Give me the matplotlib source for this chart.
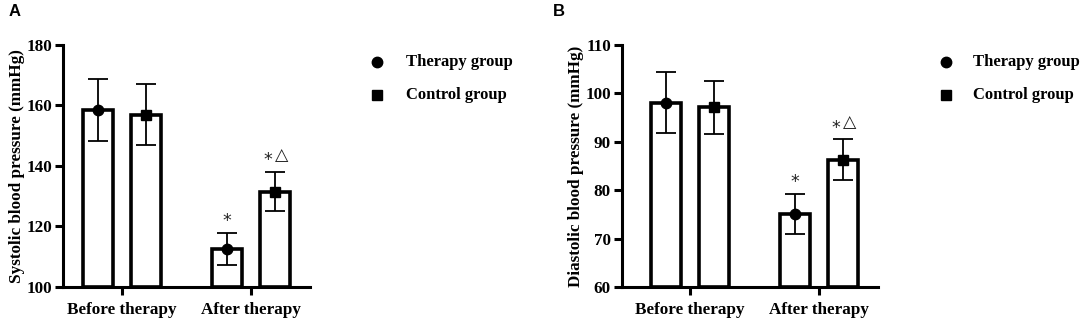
import matplotlib
matplotlib.use("Agg")
import matplotlib.pyplot as plt
from matplotlib.lines import Line2D
import numpy as np

groups = ["Before therapy", "After therapy"]
series = ["Therapy group", "Control group"]

sbp_therapy = [158.5, 112.5]
sbp_therapy_err = [10.3, 5.3]
sbp_control = [157.0, 131.5]
sbp_control_err = [10.2, 6.5]

dbp_therapy = [98.1, 75.1]
dbp_therapy_err = [6.3, 4.1]
dbp_control = [97.1, 86.3]
dbp_control_err = [5.5, 4.2]

# significance marks: (asterisk, triangle) per bar
sbp_marks = [[(False, False), (True, False)], [(False, False), (True, True)]]
dbp_marks = [[(False, False), (True, False)], [(False, False), (True, True)]]

plt.rcParams['font.family'] = ['Liberation Serif', 'DejaVu Serif']
plt.rcParams['font.weight'] = 'bold'

W, H = 1084, 326
fig = plt.figure(figsize=(W / 100, H / 100), dpi=100)
FS = 12.3

def px_axes(l, r, t, b):
    return fig.add_axes([l / W, 1 - b / H, (r - l) / W, (b - t) / H])

def panel(ax, vals, errs, marks, ylim, yticks, ylabel, xlim):
    x = np.arange(len(groups))
    off = 0.186
    width = 0.233
    markers = ["o", "s"]
    for i, (v, e, mk, m) in enumerate(zip(vals, errs, markers, marks)):
        xs = x + (-off if i == 0 else off)
        ax.bar(xs, np.array(v) - ylim[0], bottom=ylim[0], width=width,
               color="white", edgecolor="black", linewidth=2.6, zorder=2)
        ax.errorbar(xs, v, yerr=e, fmt="none", ecolor="black", elinewidth=1.3,
                    capsize=7, capthick=1.3, zorder=3)
        ax.plot(xs, v, linestyle="none", marker=mk, color="black",
                markersize=7.5, zorder=4)
        for xi, vi, ei, (star, tri) in zip(xs, v, e, m):
            if star and not tri:
                ax.annotate("*", (xi, vi + ei), xytext=(0, 2), textcoords="offset points",
                            ha="center", va="bottom", fontsize=12.5,
                            family=['DejaVu Sans'], fontweight='normal', color="#222222")
            elif star and tri:
                ax.annotate("*", (xi, vi + ei), xytext=(-5, 2), textcoords="offset points",
                            ha="center", va="bottom", fontsize=12.5,
                            family=['DejaVu Sans'], fontweight='normal', color="#222222")
                ax.annotate("\u25b3", (xi, vi + ei), xytext=(4.5, 6), textcoords="offset points",
                            ha="center", va="bottom", fontsize=12.5,
                            family=['DejaVu Sans'], fontweight='bold', color="#222222")
    ax.set_ylim(*ylim)
    ax.set_yticks(yticks)
    ax.set_xlim(*xlim)
    ax.set_xticks(x)
    ax.set_xticklabels(groups, fontsize=FS, fontweight="bold")
    for lab in ax.get_yticklabels():
        lab.set_fontsize(FS)
        lab.set_fontweight("bold")
    ax.set_ylabel(ylabel, fontsize=FS, fontweight="bold", labelpad=1)
    for s in ["top", "right"]:
        ax.spines[s].set_visible(False)
    for s in ["left", "bottom"]:
        ax.spines[s].set_linewidth(2.2)
    ax.tick_params(axis="both", width=2.2, length=6, direction="out", pad=2)
    ax.tick_params(axis="x", pad=5)

axA = px_axes(63, 310, 45, 287)
panel(axA, [sbp_therapy, sbp_control], [sbp_therapy_err, sbp_control_err], sbp_marks,
      (100, 180), [100, 120, 140, 160, 180], "Systolic blood pressure (mmHg)", (-0.457, 1.457))

axB = px_axes(622, 878, 45, 287)
panel(axB, [dbp_therapy, dbp_control], [dbp_therapy_err, dbp_control_err], dbp_marks,
      (60, 110), [60, 70, 80, 90, 100, 110], "Diastolic blood pressure (mmHg)", (-0.527, 1.457))

def legend(mx, tx, y1, y2):
    for y, mk, lab in [(y1, "o", series[0]), (y2, "s", series[1])]:
        fig.add_artist(Line2D([mx / W], [1 - y / H], marker=mk, color="black",
                              markersize=7.5, linestyle="none"))
        fig.text(tx / W, 1 - y / H, lab, ha="left", va="center", fontsize=12,
                 fontweight="bold")

legend(377, 406, 62, 95)
legend(946, 973, 62, 95)

fig.text(9 / W, 1 - 12 / H, "A", ha="left", va="center", fontsize=12,
         fontweight="bold", family=["Liberation Sans"])
fig.text(553 / W, 1 - 12 / H, "B", ha="left", va="center", fontsize=12,
         fontweight="bold", family=["Liberation Sans"])

fig.savefig("out.png", dpi=100)
